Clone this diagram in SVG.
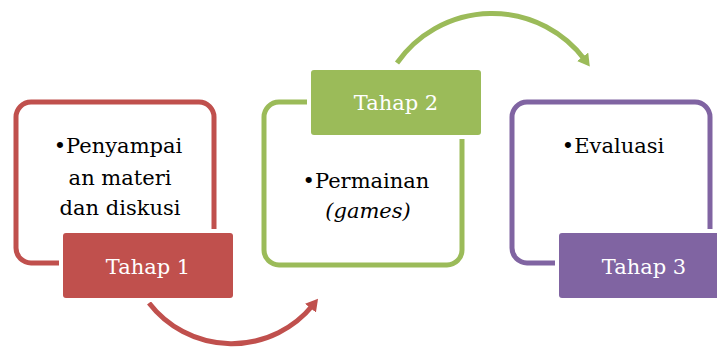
<svg xmlns="http://www.w3.org/2000/svg" width="717" height="351" viewBox="0 0 717 351">
<defs>
<style>
.frame{fill:none;stroke-width:5}
.gap{fill:#fff;stroke:#fff;stroke-width:8}
.lbl{font-family:"DejaVu Serif","Liberation Serif",serif;font-size:21px;fill:#fff;text-anchor:middle}
.body{font-family:"DejaVu Serif","Liberation Serif",serif;font-size:21px;fill:#000;text-anchor:middle}
.arc{fill:none;stroke-width:5}
</style>
<marker id="mr" viewBox="0 0 12 14" refX="4" refY="7" markerWidth="12" markerHeight="14" markerUnits="userSpaceOnUse" orient="auto"><path d="M0,0 L12,7 L0,14 Z" fill="#C0504D"/></marker>
<marker id="mg" viewBox="0 0 12 14" refX="4" refY="7" markerWidth="12" markerHeight="14" markerUnits="userSpaceOnUse" orient="auto"><path d="M0,0 L12,7 L0,14 Z" fill="#9BBB59"/></marker>
</defs>
<rect width="717" height="351" fill="#fff"/>
<g id="connectors">
<path class="arc" stroke="#C0504D" d="M149,303 A104.5,104.5 0 0 0 313,305" marker-end="url(#mr)"/>
<path class="arc" stroke="#9BBB59" d="M397,63 A116,116 0 0 1 585,60" marker-end="url(#mg)"/>
</g>
<g id="tahap1">
<rect class="frame" stroke="#C0504D" x="16" y="102" width="198" height="161" rx="15"/>
<rect class="gap" x="63" y="233" width="170" height="65" rx="3"/>
<rect x="63" y="233" width="170" height="65" rx="3" fill="#C0504D"/>
<text class="lbl" x="148" y="274">Tahap 1</text>
<text class="body" x="118" y="153">•Penyampai</text>
<text class="body" x="120" y="185">an materi</text>
<text class="body" x="120" y="215">dan diskusi</text>
</g>
<g id="tahap2">
<rect class="frame" stroke="#9BBB59" x="264" y="102" width="198" height="163" rx="15"/>
<rect class="gap" x="311" y="70" width="170" height="65" rx="3"/>
<rect x="311" y="70" width="170" height="65" rx="3" fill="#9BBB59"/>
<text class="lbl" x="396" y="110">Tahap 2</text>
<text class="body" x="366" y="188">•Permainan</text>
<text class="body" x="368" y="218" font-style="italic">(games)</text>
</g>
<g id="tahap3">
<rect class="frame" stroke="#8064A2" x="512" y="102" width="198" height="161" rx="15"/>
<rect class="gap" x="559" y="233" width="170" height="65" rx="3"/>
<rect x="559" y="233" width="170" height="65" rx="3" fill="#8064A2"/>
<text class="lbl" x="644" y="274">Tahap 3</text>
<text class="body" x="613" y="153">•Evaluasi</text>
</g>
</svg>
